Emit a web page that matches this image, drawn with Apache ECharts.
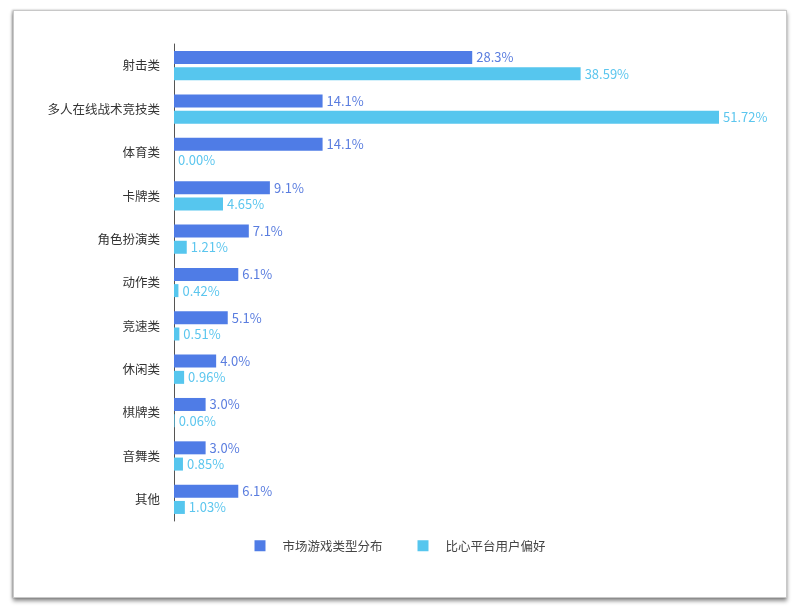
<!DOCTYPE html>
<html>
<head>
<meta charset="utf-8">
<script src="https://cdn.jsdelivr.net/npm/echarts@6/dist/echarts.min.js"></script>
<style>
html,body{margin:0;padding:0;background:#ffffff;width:800px;height:615px;overflow:hidden;}
#card{position:absolute;left:13px;top:10px;width:772px;height:586px;background:#fff;border:1px solid #c8c8c8;box-shadow:0 3px 4px rgba(0,0,0,0.45),-1px 0 2px rgba(0,0,0,0.25);}
#chart{position:absolute;left:0;top:0;width:800px;height:615px;}
</style>
</head>
<body>
<div id="card"></div>
<div id="chart"></div>
<script>
const categories = ['射击类','多人在线战术竞技类','体育类','卡牌类','角色扮演类','动作类','竞速类','休闲类','棋牌类','音舞类','其他'];
const marketValues = [28.3,14.1,14.1,9.1,7.1,6.1,5.1,4.0,3.0,3.0,6.1];
const marketLabels = ['28.3%','14.1%','14.1%','9.1%','7.1%','6.1%','5.1%','4.0%','3.0%','3.0%','6.1%'];
const platformValues = [38.59,51.72,0.00,4.65,1.21,0.42,0.51,0.96,0.06,0.85,1.03];
const platformLabels = ['38.59%','51.72%','0.00%','4.65%','1.21%','0.42%','0.51%','0.96%','0.06%','0.85%','1.03%'];
const seriesNames = ['市场游戏类型分布','比心平台用户偏好'];

const font = '"Noto Sans CJK SC","Noto Sans",sans-serif';
const chart = echarts.init(document.getElementById('chart'), null, {renderer:'canvas'});
chart.setOption({
  backgroundColor:'transparent',
  animation:false,
  textStyle:{fontFamily:font},
  grid:{left:174,right:81,top:44,bottom:94,containLabel:false},
  xAxis:{type:'value',min:0,max:'dataMax',show:false},
  yAxis:{
    type:'category',data:categories,inverse:true,
    axisLine:{show:true,lineStyle:{color:'#555',width:1}},
    axisTick:{show:false},
    axisLabel:{color:'#333',fontSize:12.5,margin:14,fontFamily:font}
  },
  legend:{
    data:seriesNames,bottom:58,left:'center',
    itemWidth:11,itemHeight:11,itemGap:35,
    icon:'rect',
    textStyle:{color:'#444',fontSize:12.5,fontFamily:font,padding:[0,0,0,12]}
  },
  series:[
    {
      name:seriesNames[0],type:'bar',data:marketValues,
      barWidth:13,barGap:'25%',
      itemStyle:{color:'#4f7ce6'},
      label:{show:true,position:'right',distance:4,color:'#5a7ddf',fontSize:13,fontFamily:font,
        formatter:p=>marketLabels[p.dataIndex]}
    },
    {
      name:seriesNames[1],type:'bar',data:platformValues,
      barWidth:13,
      itemStyle:{color:'#56c6ee'},
      label:{show:true,position:'right',distance:4,color:'#5cc6ee',fontSize:13,fontFamily:font,
        formatter:p=>platformLabels[p.dataIndex]}
    }
  ]
});
</script>
</body>
</html>
